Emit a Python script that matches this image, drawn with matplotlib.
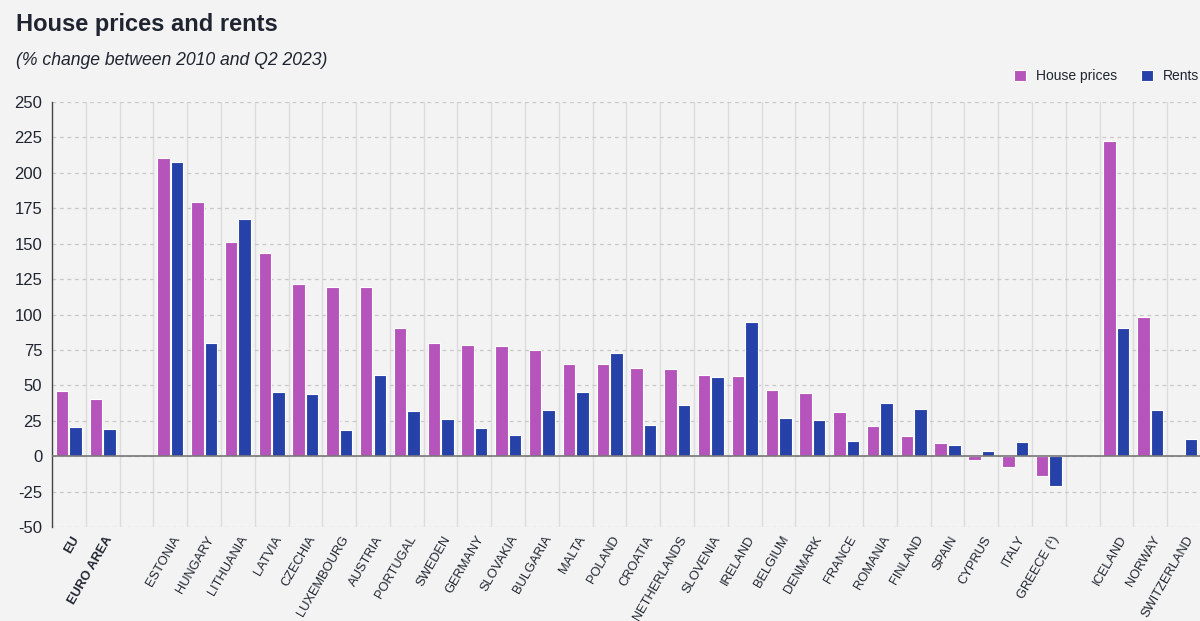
import numpy as np
import matplotlib.pyplot as plt
import matplotlib.transforms as mtransforms
from matplotlib.ticker import MultipleLocator

countries = ['EU', 'EURO AREA', '',
             'ESTONIA', 'HUNGARY', 'LITHUANIA', 'LATVIA', 'CZECHIA', 'LUXEMBOURG',
             'AUSTRIA', 'PORTUGAL', 'SWEDEN', 'GERMANY', 'SLOVAKIA', 'BULGARIA',
             'MALTA', 'POLAND', 'CROATIA', 'NETHERLANDS', 'SLOVENIA', 'IRELAND',
             'BELGIUM', 'DENMARK', 'FRANCE', 'ROMANIA', 'FINLAND', 'SPAIN',
             'CYPRUS', 'ITALY', 'GREECE (¹)', '',
             'ICELAND', 'NORWAY', 'SWITZERLAND']
house_prices = [46, 40, np.nan,
                210.5, 179.7, 151.5, 143.3, 121.2, 119.7,
                119.7, 90.3, 79.7, 78.3, 77.6, 75.0,
                65.4, 65.2, 62.1, 61.2, 57.4, 56.5,
                47.0, 44.7, 31.5, 21.0, 14.1, 9.2,
                -2.4, -7.5, -13.7, np.nan,
                222.7, 98.5, np.nan]
rents = [20.7, 19.3, np.nan,
         207.5, 80.0, 167.5, 45.0, 44.0, 18.8,
         57.4, 32.2, 26.1, 20.2, 15.0, 32.7,
         45.0, 72.5, 22.2, 36.3, 55.8, 95.0,
         27.1, 25.7, 10.9, 37.2, 33.2, 8.0,
         3.7, 9.9, -21.2, np.nan,
         90.3, 32.7, 12.2]

bg = '#f3f3f3'
c_house = '#b554bb'
c_rent = '#2642a8'
txt = '#1f2430'
plt.rcParams['font.family'] = ['Liberation Sans', 'DejaVu Sans']
plt.rcParams['axes.unicode_minus'] = False

fig = plt.figure(figsize=(12, 6.21), dpi=100, facecolor=bg)
ax = fig.add_axes([0.0433, 0.1514, 0.9575, 0.6843])
ax.set_facecolor(bg)

x = np.arange(len(countries))
ax.bar(x - 0.2, house_prices, width=0.37, color=c_house, edgecolor='white',
       linewidth=0.8, label='House prices', zorder=3)
ax.bar(x + 0.2, rents, width=0.37, color=c_rent, edgecolor='white',
       linewidth=0.8, label='Rents', zorder=3)

ax.set_xlim(-0.5, len(countries) - 0.5)
ax.set_ylim(-50, 250)
ax.yaxis.set_major_locator(MultipleLocator(25))
ax.grid(axis='y', color='#c8c8c8', linestyle=(0, (3, 3)), linewidth=0.9, zorder=0)
ax.set_xticks(x + 0.5, minor=True)
ax.grid(axis='x', which='minor', color='#dcdcdc', linestyle='-', linewidth=1.0, zorder=0)
ax.axhline(0, color='#777777', linewidth=1.2, zorder=4)

for s in ['top', 'right', 'bottom']:
    ax.spines[s].set_visible(False)
ax.spines['left'].set_color('#444444')
ax.spines['left'].set_linewidth(1.0)

ax.tick_params(axis='y', length=0, labelsize=12, colors=txt, pad=7)
ax.tick_params(axis='x', which='both', length=0, colors=txt, pad=2)
ax.set_xticks(x)
labels = ax.set_xticklabels(countries, rotation=60, ha='right',
                            rotation_mode='anchor', fontsize=9.3)
offset = mtransforms.ScaledTranslation(0.02, -0.04, fig.dpi_scale_trans)
for lab in labels:
    lab.set_transform(lab.get_transform() + offset)
    if lab.get_text() in ('EU', 'EURO AREA'):
        lab.set_fontweight('bold')

fig.text(0.013, 0.960, 'House prices and rents', fontsize=17, fontweight='bold',
         color=txt, va='center')
fig.text(0.013, 0.902, '(% change between 2010 and Q2 2023)', fontsize=12.7,
         style='italic', color=txt, va='center')

fig.legend(loc='center right', bbox_to_anchor=(0.999, 0.877), ncol=2, frameon=False,
           fontsize=10, handlelength=0.86, handleheight=0.86, handletextpad=0.7,
           columnspacing=1.7, borderpad=0, borderaxespad=0, labelcolor=txt)

fig.savefig('out.png', dpi=100, facecolor=bg)
